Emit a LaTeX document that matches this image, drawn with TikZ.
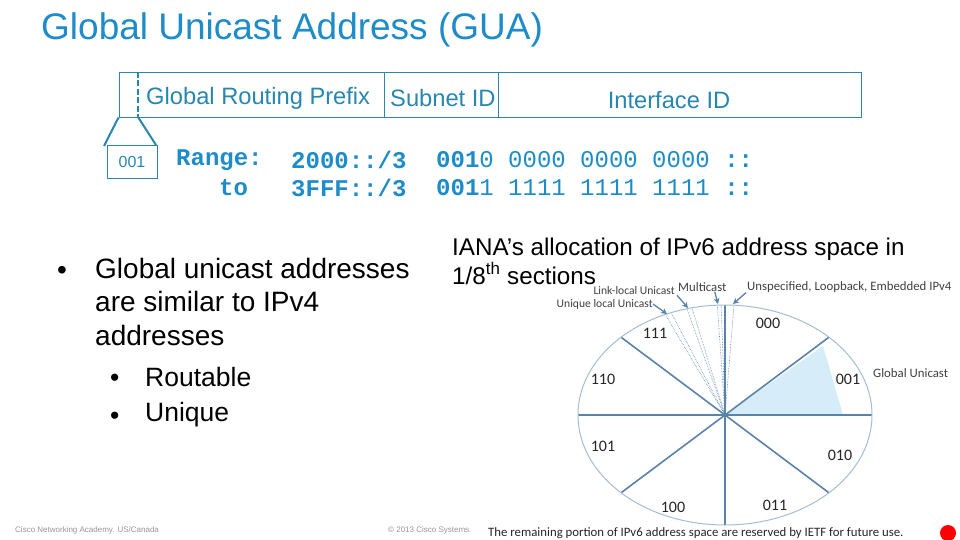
\documentclass[tikz,border=0pt]{standalone}
\usepackage{fontspec}
\setmainfont{Liberation Sans}
\newfontfamily\mymono{Liberation Mono}
\newfontfamily\calfont{Carlito}
\usetikzlibrary{arrows.meta}
\definecolor{cblue}{RGB}{30,140,200}
\definecolor{boxblue}{RGB}{40,135,175}
\definecolor{pieline}{RGB}{90,130,170}
\definecolor{pieedge}{RGB}{165,190,212}
\definecolor{lightshade}{RGB}{214,236,249}
\definecolor{footgray}{RGB}{150,150,150}
\tikzset{
  seg/.style={draw=boxblue, line width=0.9pt, minimum height=45pt, inner sep=0pt},
  boxtext/.style={text=boxblue, font=\fontsize{23.7}{28}\selectfont, inner sep=0pt},
  monotext/.style={text=cblue, font=\mymono\fontsize{24}{28}\selectfont, inner sep=0pt, anchor=west},
  monobold/.style={monotext, font=\mymono\bfseries\fontsize{24}{28}\selectfont},
  bodytext/.style={text=black, font=\fontsize{28}{33.5}\selectfont, inner sep=0pt, anchor=west},
  subtext/.style={text=black, font=\fontsize{26.5}{32}\selectfont, inner sep=0pt, anchor=west},
  ianatext/.style={text=black, font=\fontsize{24.2}{30}\selectfont, inner sep=0pt, anchor=base west},
  pielabel/.style={text=black!85, font=\calfont\fontsize{16}{18}\selectfont, inner sep=0pt},
  annot/.style={text=black!75, font=\calfont\fontsize{12.8}{14}\selectfont, inner sep=0pt},
  annotsm/.style={annot, font=\calfont\fontsize{11.6}{13}\selectfont},
  pieln/.style={draw=pieline, line width=1.6pt},
  dotln/.style={draw=pieline, line width=0.6pt, densely dotted},
  arr/.style={draw=pieline, line width=1.3pt, -{Stealth[length=6pt,width=6pt]}},
  foot/.style={text=footgray, font=\fontsize{8}{9}\selectfont, inner sep=0pt, anchor=west}
}
\begin{document}
\begin{tikzpicture}[x=1pt,y=-1pt]
\useasboundingbox (0,0) rectangle (960,540);
\fill[white] (0,0) rectangle (960,540);

% title
\node[anchor=west, text=cblue, font=\fontsize{37}{42}\selectfont, inner sep=0pt] (title) at (41,30) {Global Unicast Address (GUA)};

% address box
\node[seg, minimum width=265pt] (grp) at (251.5,94.5) {};
\node[seg, minimum width=114pt] (sub) at (441,94.5) {};
\node[seg, minimum width=363pt] (ifc) at (679.5,94.5) {};
\coordinate (dtop) at (138,72);
\coordinate (dbot) at (138,117);
\draw[draw=boxblue, line width=2pt, dash pattern=on 6pt off 2.5pt] (dtop) -- (dbot);
\node[boxtext, anchor=west] (grpt) at (146,98) {Global Routing Prefix};
\node[boxtext, anchor=west] (subt) at (390,98) {Subnet ID};
\node[boxtext] (ifct) at (669,100) {Interface ID};

% 001 box
\node[draw=boxblue, line width=0.9pt, minimum width=50pt, minimum height=33pt, inner sep=0pt, text=boxblue, font=\fontsize{16}{18}\selectfont] (b001) at (132,161.5) {001};
\coordinate (l1) at (104,146);
\coordinate (l2) at (156,145);
\draw[draw=boxblue, line width=2pt] (grp.south west) -- (l1);
\draw[draw=boxblue, line width=2pt] (dbot) -- (l2);

% ranges
\node[monobold] (rng) at (176,160) {Range:};
\node[monobold] (to) at (219,188) {to};
\node[monobold] (r1) at (291,160) {2000::/3};
\node[monobold] (r2) at (291,188) {3FFF::/3};
\node[monotext] (h1) at (436,160) {{\bfseries 001}0 0000 0000 0000 {\bfseries ::}};
\node[monotext] (h2) at (436,188) {{\bfseries 001}1 1111 1111 1111 {\bfseries ::}};

% bullets
\node[bodytext] (bu1) at (57,273) {\textbullet};
\node[bodytext, anchor=north west, align=left] (bt1) at (95,258) {Global unicast addresses\\are similar to IPv4\\addresses};
\node[subtext] (bu2) at (110,380) {\textbullet};
\node[subtext] (bt2) at (145,377) {Routable};
\node[subtext] (bu3) at (110,418) {\textbullet};
\node[subtext] (bt3) at (145,415) {Unique};

% IANA text
\node[ianatext] (iana1) at (452,255) {IANA’s allocation of IPv6 address space in};
\node[ianatext] (iana2) at (452,284) {1/8\textsuperscript{th} sections};

% pie
\coordinate (c) at (725,415);
\fill[white] (c) ellipse [x radius=147, y radius=110];
\coordinate (s1) at (823,346);
\coordinate (s2) at (843,415);
\fill[lightshade] (c) -- (s1) -- (s2) -- cycle;
\foreach \t in {114,111.5,105,103,93,91.5,86.5}
  \draw[dotln] (c) -- ({725+147*cos(\t)},{415-110*sin(\t)});
\coordinate (top) at (725,305);
\coordinate (bot) at (725,525);
\coordinate (lft) at (578,415);
\coordinate (rgt) at (872,415);
\coordinate (ul) at ({725-147*0.7071},{415-110*0.7071});
\coordinate (ur) at ({725+147*0.7071},{415-110*0.7071});
\coordinate (ll) at ({725-147*0.7071},{415+110*0.7071});
\coordinate (lr) at ({725+147*0.7071},{415+110*0.7071});
\draw[pieln] (top) -- (bot);
\draw[pieln] (lft) -- (rgt);
\draw[pieln] (ul) -- (lr);
\draw[pieln] (ll) -- (ur);
\draw[draw=pieedge, line width=1pt] (c) ellipse [x radius=147, y radius=110];

\node[pielabel] (p000) at (768,323) {000};
\node[pielabel] (p001) at (848,379) {001};
\node[pielabel] (p010) at (840,455) {010};
\node[pielabel] (p011) at (775,505) {011};
\node[pielabel] (p100) at (673,507) {100};
\node[pielabel] (p101) at (603,446) {101};
\node[pielabel] (p110) at (603,379) {110};
\node[pielabel] (p111) at (655,333) {111};
\node[annot, anchor=west] (gu) at (873,373) {Global Unicast};

% annotations
\node[annotsm, anchor=east] (ulu) at (653,304) {Unique local Unicast};
\node[annotsm, anchor=east] (llu) at (675,291) {Link-local Unicast};
\node[annot, anchor=west] (mc) at (678,287) {Multicast};
\node[annot, anchor=west] (uns) at (747,287) {Unspecified, Loopback, Embedded IPv4};
\coordinate (a1) at (667,314);
\coordinate (a2) at (688,308);
\coordinate (a3) at (718,304);
\coordinate (a4) at (733,304);
\draw[arr] (ulu.east) -- (a1);
\draw[arr] ([xshift=2pt]llu.south east) -- (a2);
\draw[arr] ([xshift=-12pt]mc.south east) -- (a3);
\draw[arr] ([xshift=-1pt]uns.south west) -- (a4);

% bottom caption and footer
\node[annot, anchor=west, text=black!85] (cap) at (488,533) {The remaining portion of IPv6 address space are reserved by IETF for future use.};
\node[foot] (f1) at (15,530) {Cisco Networking Academy. US/Canada};
\node[foot] (f2) at (388,530) {© 2013 Cisco Systems.};
\fill[red] (948,533) circle (8);
\end{tikzpicture}
\end{document}
